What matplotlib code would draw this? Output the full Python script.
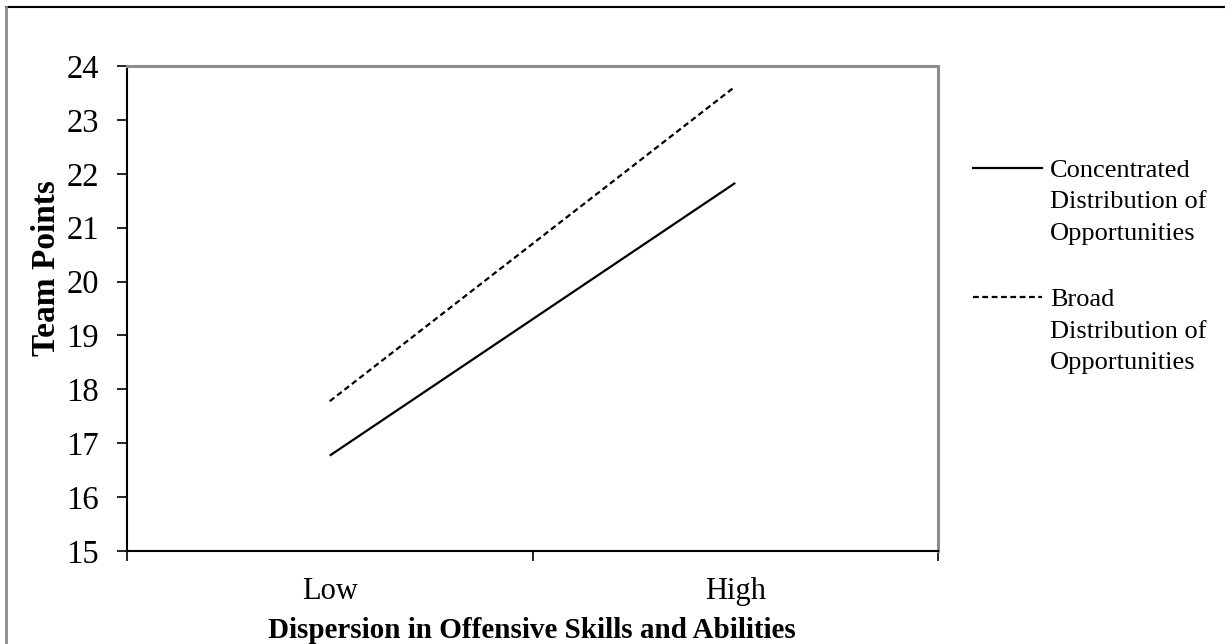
import matplotlib.pyplot as plt
from matplotlib.lines import Line2D

plt.rcParams['font.family'] = ['Liberation Serif', 'DejaVu Serif']

categories = ['Low', 'High']
concentrated = [16.77, 21.83]
broad = [17.78, 23.62]
yticks = list(range(15, 25))
series_labels = [
    ['Concentrated', 'Distribution of', 'Opportunities'],
    ['Broad', 'Distribution of', 'Opportunities'],
]

W, H = 1225, 644
fig = plt.figure(figsize=(W / 100, H / 100), dpi=100)

def fx(px):
    return px / W

def fy(py):
    return 1 - py / H

ax = fig.add_axes([fx(127), fy(551), fx(938 - 127), fy(66) - fy(551)])

x = range(len(categories))
ax.plot(x, concentrated, color='black', lw=1.6, solid_capstyle='butt')
ax.plot(x, broad, color='black', lw=1.6, dashes=(2.6, 1.6))

ax.set_xlim(-0.5, 1.5)
ax.set_ylim(15, 24)
ax.set_yticks(yticks)
ax.tick_params(axis='y', direction='out', length=7, width=1.2, labelsize=23.5, pad=13)

# category labels sit between the boundary ticks
ax.set_xticks([-0.5, 0.5, 1.5])
ax.set_xticklabels([])
ax.set_xticks(list(x), minor=True)
ax.set_xticklabels(categories, minor=True, fontsize=22)
ax.tick_params(axis='x', which='major', direction='out', length=7, width=1.2)
ax.tick_params(axis='x', which='minor', length=0, pad=19)

for side in ['left', 'bottom']:
    ax.spines[side].set_color('black')
    ax.spines[side].set_linewidth(1.5)
for side in ['top', 'right']:
    ax.spines[side].set_color('#8c8c8c')
    ax.spines[side].set_linewidth(2.2)

fig.text(fx(532), fy(638), 'Dispersion in Offensive Skills and Abilities', fontsize=21,
         fontweight='bold', ha='center', va='baseline')
fig.text(fx(47), fy(268), 'Team Points', fontsize=24, fontweight='bold',
         rotation=90, ha='center', va='center')

# legend drawn beside the plot, handle level with the first text line
line_styles = ['-', '--']
handle_y = [168, 297]
first_baseline = [177, 306.5]
row_step = 31.5
for lines, style, yline, ybase in zip(series_labels, line_styles, handle_y, first_baseline):
    ln = Line2D([fx(973), fx(1042)], [fy(yline), fy(yline)], transform=fig.transFigure,
                color='black', lw=1.6)
    if style == '--':
        ln.set_dashes((2.6, 1.6))
    fig.add_artist(ln)
    for i, text in enumerate(lines):
        fig.text(fx(1050), fy(ybase + i * row_step), text, fontsize=19,
                 va='baseline', ha='left')

# outer frame
fig.add_artist(Line2D([fx(6), 1], [fy(7), fy(7)], transform=fig.transFigure,
                      color='black', lw=1.5))
fig.add_artist(Line2D([fx(6), fx(6)], [fy(7), 0], transform=fig.transFigure,
                      color='#8c8c8c', lw=2))

fig.savefig('out.png', dpi=100)
